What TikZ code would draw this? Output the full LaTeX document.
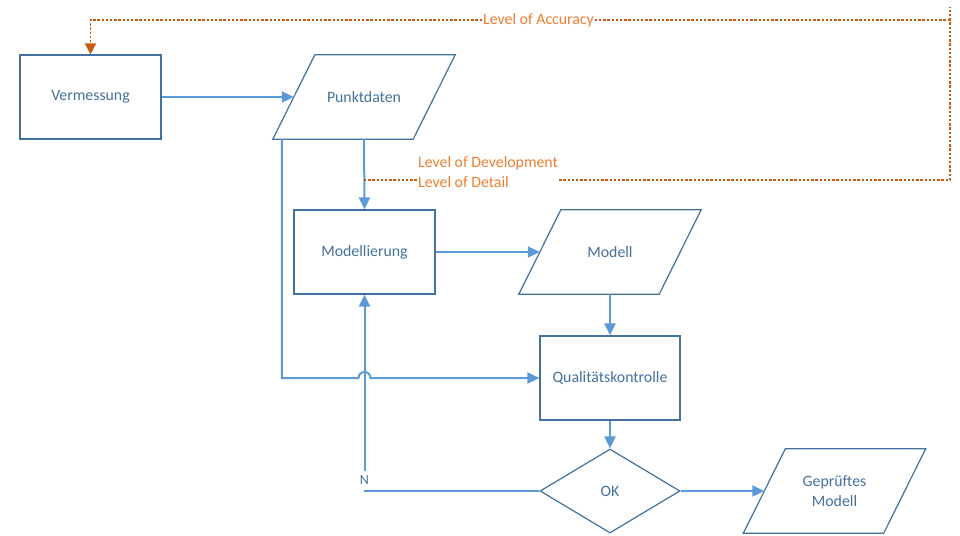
\documentclass[tikz,border=0pt]{standalone}
\usepackage{fontspec}
\setmainfont{Carlito}
\usetikzlibrary{arrows.meta,shapes.geometric,calc}
\definecolor{boxc}{HTML}{41719C}
\definecolor{linec}{HTML}{5B9BD5}
\definecolor{txtc}{HTML}{44709D}
\definecolor{orgtxt}{HTML}{ED7D31}
\definecolor{orgline}{HTML}{C55A11}
\begin{document}
\begin{tikzpicture}[x=1pt,y=-1pt,
  font=\fontsize{15.8}{19.5}\selectfont,
  procbox/.style={draw=boxc,line width=1.2pt,minimum width=141pt,minimum height=84pt,inner sep=0pt,text=txtc,align=center},
  databox/.style={minimum width=140pt,minimum height=84pt,inner sep=0pt,text=txtc,align=center},
  okbox/.style={diamond,draw=boxc,line width=1.2pt,minimum width=140pt,minimum height=84pt,inner sep=0pt,text=txtc,shape aspect=1.667},
  conn/.style={draw=linec,line width=2pt,-{Triangle[length=12pt,width=11pt]}},
  dotl/.style={draw=orgline,line width=1.7pt,dash pattern=on 2.4pt off 1.8pt},
  orgtext/.style={text=orgtxt,inner sep=1pt}
]
\useasboundingbox (0,0) rectangle (960,535);

% nodes
\node[procbox] (verm) at (90.5,97) {Vermessung};
\node[databox] (pd) at (364,97) {Punktdaten};
\node[procbox] (mod) at (364.5,252) {Modellierung};
\node[databox] (modell) at (610,252) {Modell};
\node[procbox,minimum width=140pt] (qk) at (610,378) {Qualitätskontrolle};
\node[okbox] (ok) at (610,491) {OK};
\node[databox] (gm) at (834.5,491) {Geprüftes\\Modell};

% parallelograms
\foreach \n in {pd,modell,gm}{
  \draw[draw=boxc,line width=1.2pt,line join=miter]
    ($(\n.south west)+(-21,0)$) -- ($(\n.south east)+(-21,0)$) --
    ($(\n.north east)+(21,0)$) -- ($(\n.north west)+(21,0)$) -- cycle;
}

% connectors
\draw[conn] (verm.east) -- (pd.west);
\draw[conn] (pd.south) -- (mod.north);
\coordinate (pdl) at ($(pd.south west)+(-12,0)$);
\coordinate (jmp) at (mod.south |- qk.west);
\draw[conn] (pdl) -- (pdl |- qk.west) -- ($(jmp)+(-6,0)$)
  arc[start angle=180,end angle=0,radius=6pt] -- (qk.west);
\draw[conn] (mod.east) -- (modell.west);
\draw[conn] (modell.south) -- (qk.north);
\draw[conn] (qk.south) -- (ok.north);
\coordinate (ncorner) at (mod.south |- ok.west);
\draw[conn] (ok.west) -- (ncorner) -- (mod.south);
\node[fill=white,text=txtc,inner sep=0pt,minimum width=12pt,minimum height=19pt,font=\fontsize{14}{16}\selectfont] (nlab) at ($(ncorner)+(0,-11)$) {N};
\draw[conn] (ok.east) -- (gm.west);

% orange feedback
\node[orgtext,anchor=west,align=left] (lod) at (417,172) {Level of Development\\Level of Detail};
\node[orgtext] (acc) at (538.5,20) {Level of Accuracy};
\coordinate (lodA) at (pd.south |- 0,180);
\coordinate (rtop) at (950,7);
\coordinate (rbot) at (950,180);
\draw[dotl] (lodA) -- (lodA -| lod.west);
\draw[dotl] (lodA -| lod.east) -- (rbot) -- (rtop);
\draw[dotl] (rbot |- acc.east) -- (acc.east);
\draw[dotl,-{Triangle[length=11pt,width=11pt]},orgline] (acc.west) -| (verm.north);
\end{tikzpicture}
\end{document}
